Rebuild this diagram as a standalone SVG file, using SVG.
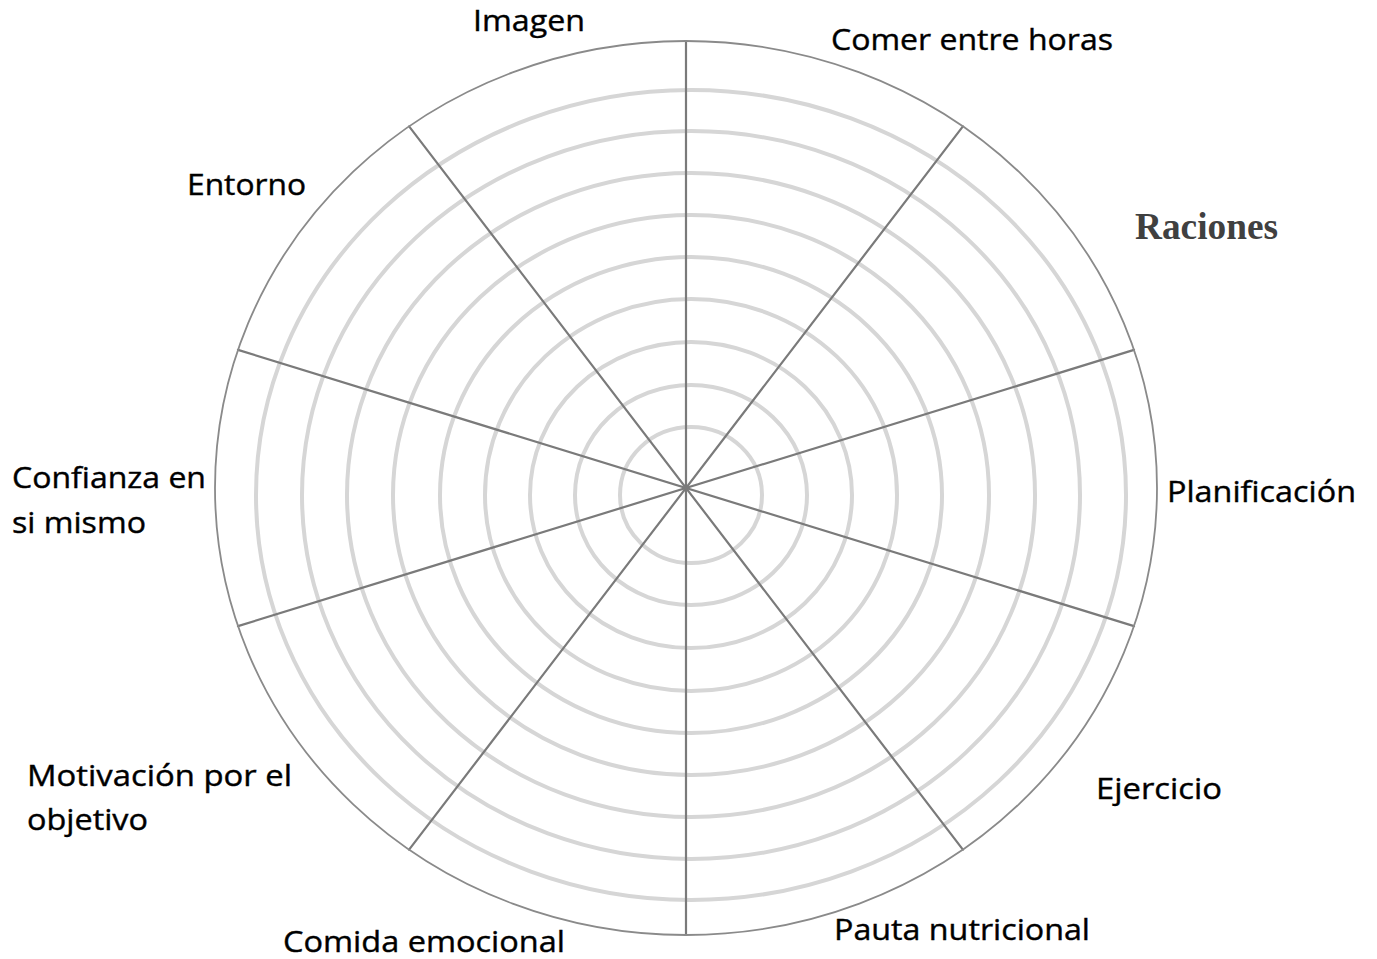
<svg xmlns="http://www.w3.org/2000/svg" width="1377" height="959" viewBox="0 0 1377 959">
<style>
.ring{fill:none;stroke:#d6d6d6;stroke-width:4}
.spoke{stroke:#7a7a7a;stroke-width:2.2;stroke-linecap:round}
.outer{fill:none;stroke:#8a8a8a;stroke-width:1.8}
.lbl{font-family:"Open Sans","Noto Sans","Liberation Sans",sans-serif;font-size:30px;fill:#000;stroke:#000;stroke-width:0.4}
.lblb{font-family:"Liberation Serif","DejaVu Serif",serif;font-size:37px;font-weight:bold;fill:#404040}
</style>
<rect width="1377" height="959" fill="#fff"/>
<g id="rings">
<ellipse class="ring" cx="691" cy="495" rx="71" ry="68"/>
<ellipse class="ring" cx="691" cy="495" rx="116" ry="110"/>
<ellipse class="ring" cx="691" cy="495" rx="161" ry="153"/>
<ellipse class="ring" cx="691" cy="495" rx="206" ry="196"/>
<ellipse class="ring" cx="691" cy="495" rx="251" ry="238"/>
<ellipse class="ring" cx="691" cy="495" rx="298" ry="280"/>
<ellipse class="ring" cx="691" cy="495" rx="344" ry="322"/>
<ellipse class="ring" cx="691" cy="495" rx="389" ry="364"/>
<ellipse class="ring" cx="691" cy="495" rx="435" ry="405"/>
</g>
<g id="connectors">
<line class="spoke" x1="686" y1="41" x2="686" y2="935"/>
<line class="spoke" x1="962.9" y1="126.4" x2="409.1" y2="849.6"/>
<line class="spoke" x1="1134" y1="349.9" x2="238" y2="626.1"/>
<line class="spoke" x1="1134" y1="626.1" x2="238" y2="349.9"/>
<line class="spoke" x1="962.9" y1="849.6" x2="409.1" y2="126.4"/>
</g>
<ellipse id="outer" class="outer" cx="686" cy="488" rx="471" ry="447"/>
<g id="imagen"><text class="lbl" x="473" y="31" textLength="112" lengthAdjust="spacingAndGlyphs">Imagen</text></g>
<g id="comer-entre-horas"><text class="lbl" x="831" y="50" textLength="282" lengthAdjust="spacingAndGlyphs">Comer entre horas</text></g>
<g id="raciones"><text class="lblb" x="1135" y="239" textLength="143" lengthAdjust="spacingAndGlyphs">Raciones</text></g>
<g id="planificacion"><text class="lbl" x="1167" y="502" textLength="189" lengthAdjust="spacingAndGlyphs">Planificación</text></g>
<g id="ejercicio"><text class="lbl" x="1096" y="799" textLength="126" lengthAdjust="spacingAndGlyphs">Ejercicio</text></g>
<g id="pauta-nutricional"><text class="lbl" x="834" y="940" textLength="256" lengthAdjust="spacingAndGlyphs">Pauta nutricional</text></g>
<g id="comida-emocional"><text class="lbl" x="283" y="952" textLength="282" lengthAdjust="spacingAndGlyphs">Comida emocional</text></g>
<g id="motivacion"><text class="lbl" x="27" y="786" textLength="265" lengthAdjust="spacingAndGlyphs">Motivación por el</text><text class="lbl" x="27" y="830" textLength="121" lengthAdjust="spacingAndGlyphs">objetivo</text></g>
<g id="confianza"><text class="lbl" x="12" y="488" textLength="194" lengthAdjust="spacingAndGlyphs">Confianza en</text><text class="lbl" x="12" y="533" textLength="134" lengthAdjust="spacingAndGlyphs">si mismo</text></g>
<g id="entorno"><text class="lbl" x="187" y="195" textLength="119" lengthAdjust="spacingAndGlyphs">Entorno</text></g>
</svg>
